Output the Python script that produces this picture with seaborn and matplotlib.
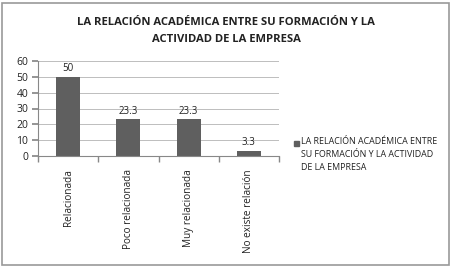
import matplotlib
matplotlib.use("Agg")
import matplotlib.pyplot as plt
import matplotlib.patches as mpatches
import seaborn as sns
import pandas as pd
import numpy as np

categories = ["Relacionada", "Poco relacionada", "Muy relacionada", "No existe relación"]
values = [50, 23.3, 23.3, 3.3]
labels = ["50", "23.3", "23.3", "3.3"]
title = "LA RELACIÓN ACADÉMICA ENTRE SU FORMACIÓN Y LA\nACTIVIDAD DE LA EMPRESA"
legend_label = "LA RELACIÓN ACADÉMICA ENTRE\nSU FORMACIÓN Y LA ACTIVIDAD\nDE LA EMPRESA"

df = pd.DataFrame({"cat": categories, "val": values})

sns.set_theme(style="white")
plt.rcParams["font.family"] = ["Open Sans", "DejaVu Sans"]

bar_color = "#5f5f5f"
fig = plt.figure(figsize=(4.52, 2.67), dpi=100)
ax = fig.add_axes([38 / 452, 1 - 156 / 267, (279 - 38) / 452, (156 - 61) / 267])

sns.barplot(data=df, x="cat", y="val", color=bar_color, width=0.4, ax=ax,
            saturation=1, edgecolor="none")

for i, (v, lab) in enumerate(zip(values, labels)):
    ax.text(i, v + 1.5, lab, ha="center", va="bottom", fontsize=7, color="#222222")

ax.set_ylim(0, 60)
ax.set_xlim(-0.5, 3.5)
ax.set_yticks(range(0, 61, 10))
ax.yaxis.grid(True, color="#bdbdbd", linewidth=0.7)
ax.set_axisbelow(True)
ax.set_xlabel("")
ax.set_ylabel("")
ax.set_xticks(range(len(categories)))
ax.set_xticklabels(categories, rotation=90, fontsize=7.2, color="#222222")
ax.set_xticks(np.arange(-0.5, 4.0, 1.0), minor=True)
ax.tick_params(axis="x", which="major", length=0, pad=9.5)
ax.tick_params(axis="x", which="minor", length=4, color="#888888", direction="out", bottom=True)
ax.tick_params(axis="y", labelsize=7.5, length=4, color="#888888", direction="out", left=True,
               labelcolor="#222222", pad=3)
for s in ["top", "right"]:
    ax.spines[s].set_visible(False)
for s in ["left", "bottom"]:
    ax.spines[s].set_color("#888888")
    ax.spines[s].set_linewidth(0.8)

fig.text(0.5, 1 - 31 / 267, title, ha="center", va="center", fontsize=8.1,
         fontweight="bold", color="#222222", linespacing=1.7)

# legend: square aligned with first text line
fig.add_artist(mpatches.Rectangle((294 / 452, 1 - 146 / 267), 5 / 452, 5 / 267,
                                  transform=fig.transFigure, color=bar_color))
fig.text(301 / 452, 1 - 137 / 267, legend_label, ha="left", va="top", fontsize=6.4,
         color="#222222", linespacing=1.6)

fig.add_artist(mpatches.Rectangle((2 / 452, 2 / 267), 447 / 452, 262 / 267, transform=fig.transFigure,
                                  fill=False, edgecolor="#999999", linewidth=1.2))

fig.savefig("out.png", dpi=100)
